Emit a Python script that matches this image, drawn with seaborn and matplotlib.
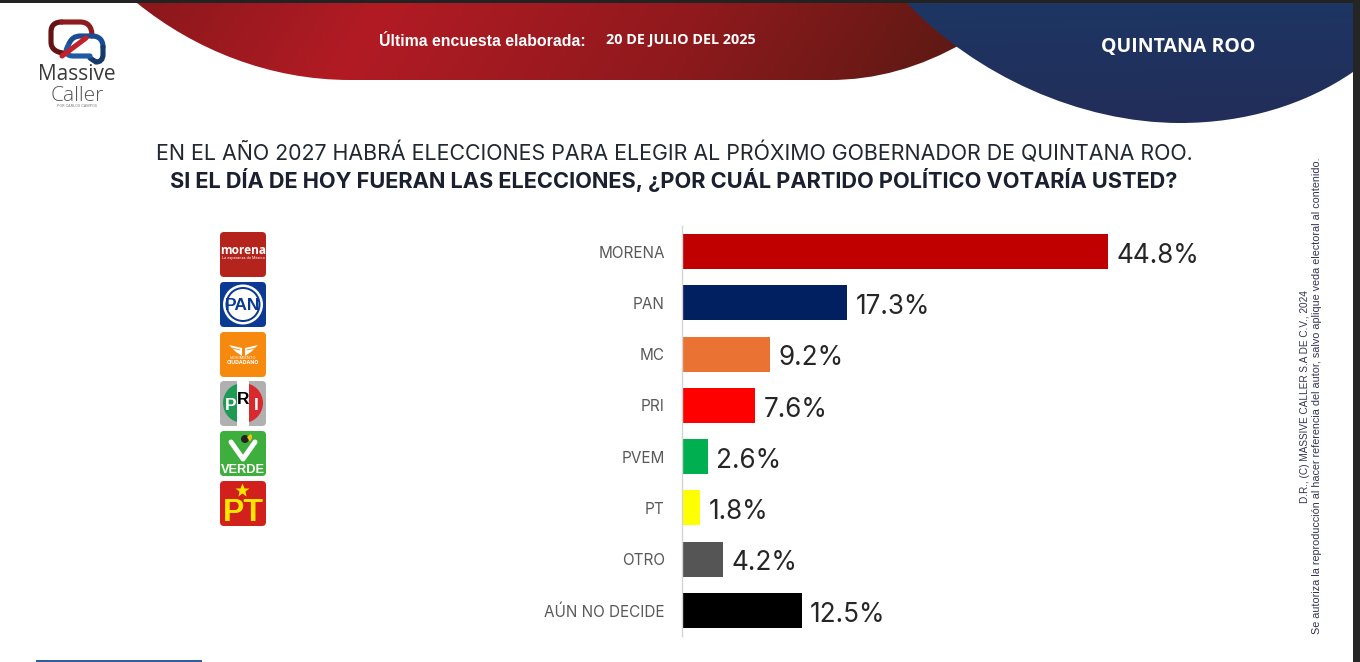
"""Massive Caller poll: party preference in Quintana Roo."""
import numpy as np
import pandas as pd
import seaborn as sns
import matplotlib.pyplot as plt
from matplotlib.colors import LinearSegmentedColormap
from matplotlib.patches import Circle, FancyBboxPatch, PathPatch, Polygon, Rectangle, Wedge
from matplotlib.path import Path

parties = ["MORENA", "PAN", "MC", "PRI", "PVEM", "PT", "OTRO", "AÚN NO DECIDE"]
votes = [44.8, 17.3, 9.2, 7.6, 2.6, 1.8, 4.2, 12.5]
bar_colors = ["#c00000", "#002060", "#ea7233", "#ff0000", "#00b050", "#ffff00", "#555555", "#000000"]

title_line1 = "EN EL AÑO 2027 HABRÁ ELECCIONES PARA ELEGIR AL PRÓXIMO GOBERNADOR DE QUINTANA ROO."
title_line2 = "SI EL DÍA DE HOY FUERAN LAS ELECCIONES, ¿POR CUÁL PARTIDO POLÍTICO VOTARÍA USTED?"
legal_line1 = "D.R., (C) MASSIVE CALLER S.A DE C.V., 2024"
legal_line2 = "Se autoriza la reproducción al hacer referencia del autor, salvo aplique veda electoral al contenido."

W, H = 1360, 662

sns.set_theme(style="white")
plt.rcParams["font.family"] = ["Inter", "DejaVu Sans"]

fig = plt.figure(figsize=(W / 100, H / 100), dpi=100, facecolor="white")

# background layer in pixel coordinates, for header, logo and party badges
bg = fig.add_axes([0, 0, 1, 1], zorder=0)
bg.set_xlim(0, W)
bg.set_ylim(H, 0)
bg.axis("off")


def gradient_shape(verts, codes, colors, extent, tx=1.0, ty=0.0):
    patch = PathPatch(Path(verts, codes), fc="none", ec="none")
    bg.add_patch(patch)
    cmap = LinearSegmentedColormap.from_list("g", colors)
    xx, yy = np.meshgrid(np.linspace(0, 1, 256), np.linspace(0, 1, 64))
    grad = (tx * xx + ty * yy) / (tx + ty)
    im = bg.imshow(grad, cmap=cmap, extent=extent, aspect="auto", zorder=1)
    im.set_clip_path(patch)
    bg.set_xlim(0, W)
    bg.set_ylim(H, 0)


def stroke(verts, codes, color, lw=3.7, zorder=2):
    bg.add_patch(PathPatch(Path(verts, codes), fc="none", ec=color, lw=lw, zorder=zorder, capstyle="round"))


M, L, C = Path.MOVETO, Path.LINETO, Path.CURVE4

# red banner
gradient_shape(
    [(137, 3), (195, 50), (270, 80), (350, 80), (560, 80), (800, 80), (830, 80),
     (875, 80), (920, 68), (965, 42), (965, 3), (137, 3)],
    [M, C, C, C, L, L, L, C, C, C, L, L],
    [(0, "#8a181c"), (0.28, "#b21b24"), (0.65, "#8f191d"), (1, "#5a1a13")],
    (137, 965, 81, 3),
    tx=1.0,
    ty=0.06,
)
# blue banner
gradient_shape(
    [(907, 3), (975, 75), (1080, 123), (1180, 123), (1245, 123), (1305, 105), (1353, 72),
     (1353, 3), (907, 3)],
    [M, C, C, C, C, C, C, L, L],
    ["#1d3663", "#232d59"],
    (907, 1353, 124, 3),
    tx=0.05,
    ty=1.0,
)

# window frame
bg.add_patch(Rectangle((0, 0), W, 3, fc="#222222", ec="none", zorder=3))
bg.add_patch(Rectangle((1353, 0), 7, H, fc="#252525", ec="none", zorder=3))
bg.add_patch(Rectangle((36, 660), 166, 2, fc="#2f5f9a", ec="none", zorder=3))

# header text
bg.text(482, 41, "Última encuesta elaborada:", color="white", fontsize=11.4, fontweight="bold",
        ha="center", va="center", zorder=4, family=["Liberation Sans"])
bg.text(681, 40, "20 DE JULIO DEL 2025", color="white", fontsize=10.4, fontweight="bold",
        ha="center", va="center", zorder=4, family=["Open Sans"])
bg.text(1178, 47, "QUINTANA ROO", color="white", fontsize=14, fontweight="bold",
        ha="center", va="center", zorder=4, family=["Open Sans"])

# logo, two interlocked speech bubbles
stroke([(63, 53), (55, 52), (51, 48), (51, 42), (51, 32), (51, 25), (55, 22), (62, 22)],
       [M, C, C, C, L, C, C, C], "#651416")
stroke([(62, 22), (80, 22), (88, 22), (92, 27), (92, 36)], [M, L, C, C, C], "#8c1c20")
stroke([(68, 46), (71, 38), (75, 36), (81, 36), (92, 36), (99, 36), (103, 40), (103, 47)],
       [M, C, C, C, L, C, C, C], "#1a4c94")
stroke([(103, 47), (103, 54), (103, 60), (100, 62), (96, 62), (90, 58)],
       [M, L, C, C, C, L], "#163a6a")
stroke([(68, 46), (64, 52), (67, 56), (73, 56), (90, 56)], [M, C, C, C, L], "#1f5aa8")
stroke([(62, 56), (86, 38)], [M, L], "#c4202a", zorder=3)
bg.text(77, 75, "Massive", color="#3a3a3a", fontsize=15, ha="center", va="center", zorder=4,
        family=["Open Sans"])
bg.text(77, 96, "Caller", color="#555555", fontsize=15, fontweight="light", ha="center", va="center",
        zorder=4, family=["Open Sans"])
bg.text(77, 106, "POR CARLOS CAMPOS", color="#777777", fontsize=2.6, ha="center", va="center", zorder=4)


# party badges
def badge(y, color):
    bg.add_patch(FancyBboxPatch((220, y), 46, 45, boxstyle="round,pad=0,rounding_size=4",
                                fc=color, ec="none", zorder=2))


badge(232, "#b5241c")
bg.text(243, 251, "morena", color="white", fontsize=8.6, fontweight="bold", ha="center", va="center",
        zorder=4, family=["Open Sans"])
bg.text(243, 258, "La esperanza de México", color="white", fontsize=2.7, ha="center", va="center", zorder=4)

badge(282, "#0b3a94")
bg.add_patch(Circle((243, 304.5), 20, fc="white", ec="none", zorder=3))
bg.add_patch(Circle((243, 304.5), 17.5, fc="#0b3a94", ec="none", zorder=3))
bg.add_patch(Circle((243, 304.5), 15.5, fc="white", ec="none", zorder=3))
bg.text(243, 305, "PAN", color="#0b3a94", fontsize=12.5, fontweight="bold", ha="center", va="center",
        zorder=4, family=["Liberation Sans"])

badge(332, "#f78a0e")
bg.add_patch(Polygon([(229, 345), (242, 348), (242, 356), (236, 352)], fc="white", ec="none", zorder=3))
bg.add_patch(Polygon([(258, 345), (245, 348), (245, 356), (251, 352)], fc="white", ec="none", zorder=3))
bg.plot([232, 240], [348, 350], color="#f78a0e", lw=0.6, zorder=4)
bg.plot([255, 247], [348, 350], color="#f78a0e", lw=0.6, zorder=4)
bg.text(243, 358, "MOVIMIENTO", color="white", fontsize=2.9, ha="center", va="center", zorder=4)
bg.text(243, 362, "CIUDADANO", color="white", fontsize=3.7, fontweight="bold", ha="center", va="center", zorder=4)

badge(381, "#b0b0b0")
bg.add_patch(Rectangle((237, 381), 12, 46, fc="white", ec="none", zorder=2.5))
bg.add_patch(Wedge((243, 403), 20, 90, 270, fc="#1e9a55", ec="none", zorder=3))
bg.add_patch(Wedge((243, 403), 20, -90, 90, fc="#d8292f", ec="none", zorder=3))
bg.add_patch(Rectangle((237, 383), 12, 40, fc="white", ec="none", zorder=3))
bg.text(231, 405, "P", color="white", fontsize=12.5, fontweight="bold", ha="center", va="center",
        zorder=4, family=["Liberation Sans"])
bg.text(243, 399, "R", color="black", fontsize=12.5, fontweight="bold", ha="center", va="center",
        zorder=4, family=["Liberation Sans"])
bg.text(256, 405, "I", color="white", fontsize=12.5, fontweight="bold", ha="center", va="center",
        zorder=4, family=["Liberation Sans"])

badge(431, "#3eae3c")
bg.plot([231, 243, 255], [442, 459, 442], color="white", lw=3.6, zorder=3)
bg.add_patch(Circle((245, 439), 4, fc="#222222", ec="none", zorder=4))
bg.add_patch(Wedge((247, 437), 5, -40, 60, fc="#f4c20d", ec="none", zorder=4))
bg.text(243, 470, "VERDE", color="white", fontsize=9.2, fontweight="bold", ha="center", va="center",
        zorder=4, family=["Liberation Sans"])

badge(481, "#d2201c")
bg.plot([242], [490], marker="*", ms=10, color="#ffe600", mec="none", zorder=4)
bg.text(243, 513, "PT", color="#ffe600", fontsize=23, fontweight="bold", ha="center", va="center",
        zorder=4, family=["Liberation Sans"])

# titles
fig.text(674 / W, 1 - 153.5 / H, title_line1, color="#222831", fontsize=15.4, ha="center", va="center",
         family=["Inter", "Open Sans"])
fig.text(674 / W, 1 - 180 / H, title_line2, color="#1b2030", fontsize=15.7, fontweight="bold",
         ha="center", va="center", family=["Inter", "Open Sans"])

# legal text
fig.text(1305 / W, 1 - 397 / H, legal_line1, color="#333355", fontsize=7.2, rotation=90,
         ha="center", va="center", family=["Liberation Sans"])
fig.text(1317.5 / W, 1 - 396 / H, legal_line2, color="#333355", fontsize=7.75, rotation=90,
         ha="center", va="center", family=["Liberation Sans"])

# bar chart: 0 at x=683, 9.487 px per point, 51.3 px per row
ax = fig.add_axes([683 / W, 1 - 636 / H, 570 / W, 410 / H], zorder=2)
ax.patch.set_alpha(0)
df = pd.DataFrame({"partido": parties, "voto": votes})
sns.barplot(data=df, y="partido", x="voto", hue="partido", palette=bar_colors, order=parties,
            hue_order=parties, width=0.68, dodge=False, legend=False, saturation=1, linewidth=0, ax=ax)
ax.set_xlim(0, 570 / 9.487)
ax.set_ylim(7.5, -0.5)
ax.set_xlabel("")
ax.set_ylabel("")
ax.set_xticks([])
ax.tick_params(axis="y", length=0, pad=12.5, labelcolor="#595959")
for label in ax.get_yticklabels():
    label.set_family(["Inter", "Open Sans"])
    label.set_fontsize(11.4)
    label.set_verticalalignment("center")
for side in ["top", "right", "bottom"]:
    ax.spines[side].set_visible(False)
ax.spines["left"].set_color("#d4d4d4")
ax.spines["left"].set_linewidth(1)
ax.spines["left"].set_position(("outward", 0.7))

for container in ax.containers:
    for text in ax.bar_label(container, fmt="%.1f%%", padding=6, fontsize=18.8, color="#262626",
                             family=["Inter", "Open Sans"]):
        text.xyann = (6, -3)

fig.savefig("out.png", dpi=100)
